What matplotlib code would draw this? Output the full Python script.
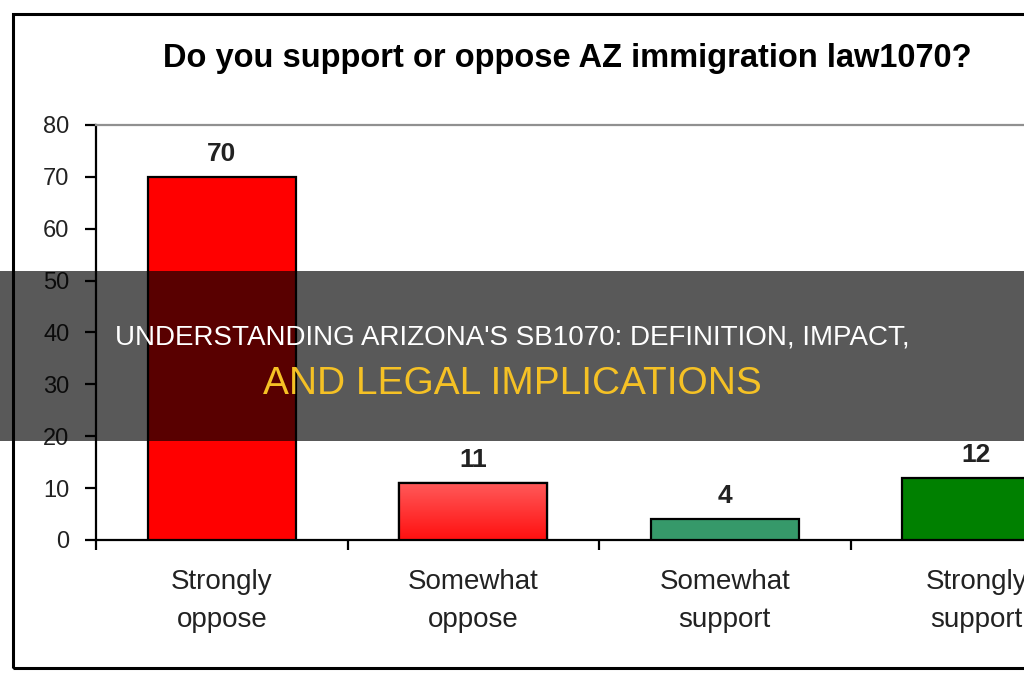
import matplotlib
matplotlib.use("Agg")
import matplotlib.pyplot as plt
import numpy as np
from matplotlib.patches import Rectangle
from matplotlib.colors import LinearSegmentedColormap

# ---- data ----
categories = ["Strongly\noppose", "Somewhat\noppose", "Somewhat\nsupport", "Strongly\nsupport"]
values = [70, 11, 4, 12]
bar_colors = ["#ff0000", "#ff2020", "#36996a", "#008000"]
y_ticks = [0, 10, 20, 30, 40, 50, 60, 70, 80]
title = "Do you support or oppose AZ immigration law1070?"
banner_line1 = "UNDERSTANDING ARIZONA'S SB1070: DEFINITION, IMPACT,"
banner_line2 = "AND LEGAL IMPLICATIONS"

W, H = 1024, 680
fig = plt.figure(figsize=(W / 100, H / 100), dpi=100)
fig.patch.set_facecolor("white")

base_font = ["Liberation Sans", "DejaVu Sans"]

# axes: left spine at x=96px, y=0 at 540px, y=80 at 125px
ax = fig.add_axes([96 / W, 1 - 540 / H, 1006 / W, 415 / H])
x = np.arange(len(categories))
bars = ax.bar(x, values, width=0.59, color=bar_colors, edgecolor="black",
              linewidth=1.6, zorder=3)

# gradient on "Somewhat oppose" bar
grad_cmap = LinearSegmentedColormap.from_list("g", ["#ff1010", "#ff5a5a"])
b = bars[1]
bx0, by0 = b.get_x(), b.get_y()
bx1, by1 = bx0 + b.get_width(), by0 + b.get_height()
im = ax.imshow(np.linspace(0, 1, 64).reshape(-1, 1), cmap=grad_cmap,
               extent=[bx0, bx1, by0, by1], origin="lower", aspect="auto",
               zorder=3.5)
im.set_clip_path(b)
ax.bar([x[1]], [values[1]], width=0.59, facecolor="none", edgecolor="black",
       linewidth=1.6, zorder=4)

ax.set_xlim(-0.5, 3.5)
ax.set_ylim(0, 80)
ax.set_yticks(y_ticks)
ax.set_yticklabels([str(v) for v in y_ticks], fontsize=17, family=base_font,
                   color="#222222")
ax.tick_params(axis="y", direction="out", length=8, width=1.6, pad=11)

ax.set_xticks(x)
ax.set_xticklabels(categories, fontsize=20, family=base_font, color="#222222",
                   linespacing=1.6)
ax.tick_params(axis="x", which="major", length=0, pad=21)
ax.set_xticks(np.arange(-0.5, len(categories), 1.0), minor=True)
ax.tick_params(axis="x", which="minor", direction="out", length=7, width=1.6)

for s in ["left", "bottom"]:
    ax.spines[s].set_linewidth(1.6)
    ax.spines[s].set_color("black")
ax.spines["top"].set_color("#909090")
ax.spines["top"].set_linewidth(1.6)
ax.spines["right"].set_visible(False)

for xi, v in zip(x, values):
    ax.annotate(str(v), (xi, v), xytext=(0, 8), textcoords="offset points",
                ha="center", va="bottom", fontsize=19, fontweight="bold",
                family=base_font, color="#222222", zorder=5)

# chart title
fig.text(567 / W, 1 - 58 / H, title, ha="center", va="center", fontsize=23.5,
         fontweight="bold", family=base_font, color="black")

# outer frame
fig.patches.append(Rectangle((13 / W, 1 - 668 / H), 1.2, (668 - 14) / H,
                             transform=fig.transFigure, fill=False,
                             edgecolor="black", linewidth=2.2, zorder=10))

# banner overlay
fig.patches.append(Rectangle((0, 1 - 441 / H), 1, 170 / H,
                             transform=fig.transFigure, facecolor="black",
                             alpha=0.65, edgecolor="none", zorder=20))
fig.text(512 / W, 1 - 337 / H, banner_line1, ha="center", va="center",
         fontsize=20, color="white", family=base_font, zorder=21)
fig.text(512 / W, 1 - 384 / H, banner_line2, ha="center", va="center",
         fontsize=28, color="#f5c125", family=base_font, zorder=21)

fig.savefig("out.png", dpi=100)
